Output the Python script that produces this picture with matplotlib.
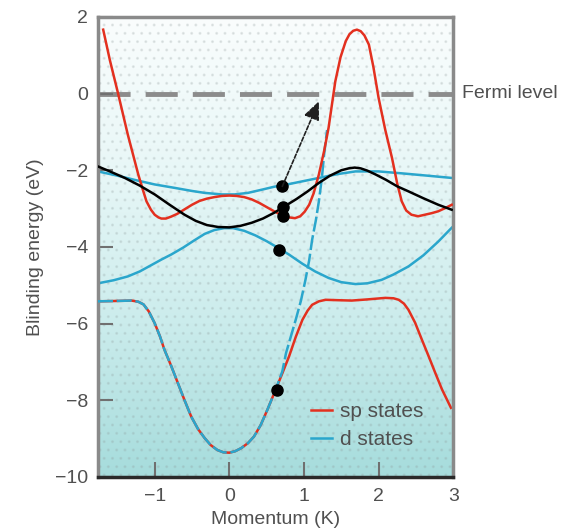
import numpy as np
import matplotlib
matplotlib.use("Agg")
import matplotlib.pyplot as plt
from matplotlib.colors import LinearSegmentedColormap

plt.rcParams['font.family'] = ['Liberation Sans', 'DejaVu Sans']

# ---- data ----
sp_upper_x = [-1.69, -1.6, -1.49, -1.36, -1.22, -1.16, -1.11, -1.05, -1.0, -0.95, -0.91, -0.85, -0.78,
              -0.7, -0.6, -0.5, -0.4, -0.3, -0.2, -0.1, 0.0, 0.1, 0.2, 0.3, 0.4, 0.5, 0.6, 0.7, 0.8,
              0.88, 0.95, 1.01, 1.07, 1.13, 1.2, 1.27, 1.33, 1.42, 1.49, 1.56, 1.61, 1.66, 1.71, 1.76,
              1.81, 1.87, 1.93, 2.0, 2.09, 2.18, 2.25, 2.31, 2.37, 2.44, 2.53, 2.62, 2.71, 2.8, 2.9, 2.98]
sp_upper_y = [1.67, 0.87, 0.0, -1.07, -2.11, -2.5, -2.81, -3.03, -3.16, -3.23, -3.26, -3.26, -3.21,
              -3.14, -3.02, -2.9, -2.8, -2.74, -2.7, -2.67, -2.66, -2.67, -2.7, -2.76, -2.85, -2.96, -3.07,
              -3.17, -3.23, -3.25, -3.2, -3.08, -2.9, -2.6, -2.11, -1.5, -0.89, 0.32, 0.95, 1.37, 1.55,
              1.64, 1.67, 1.63, 1.52, 1.28, 0.7, -0.11, -0.95, -1.68, -2.35, -2.81, -3.05, -3.16, -3.2,
              -3.16, -3.12, -3.07, -2.98, -2.9]

sp_lower_x = [-1.76, -1.5, -1.31, -1.22, -1.15, -1.08, -1.0, -0.93, -0.87, -0.78, -0.69, -0.6, -0.51,
              -0.42, -0.33, -0.25, -0.16, -0.08, 0.0, 0.08, 0.16, 0.25, 0.33, 0.42, 0.51, 0.62, 0.71,
              0.8, 0.89, 0.98, 1.05, 1.11, 1.2, 1.29, 1.45, 1.64, 1.85, 2.09, 2.2, 2.27, 2.34, 2.4,
              2.49, 2.58, 2.67, 2.76, 2.85, 2.97]
sp_lower_y = [-5.42, -5.41, -5.4, -5.43, -5.5, -5.68, -5.99, -6.33, -6.68, -7.1, -7.55, -8.0, -8.43,
              -8.75, -8.99, -9.17, -9.3, -9.36, -9.37, -9.33, -9.25, -9.12, -8.95, -8.65, -8.25, -7.73, -7.3,
              -6.86, -6.35, -5.9, -5.66, -5.51, -5.42, -5.38, -5.39, -5.4, -5.37, -5.33, -5.34, -5.38,
              -5.48, -5.64, -5.98, -6.42, -6.85, -7.29, -7.72, -8.2]

d_upper_x = [-1.76, -1.5, -1.27, -1.0, -0.73, -0.5, -0.33, -0.1, 0.07, 0.25, 0.45, 0.6, 0.8, 1.0, 1.2,
             1.45, 1.69, 2.0, 2.31, 2.65, 2.98]
d_upper_y = [-2.03, -2.14, -2.25, -2.37, -2.46, -2.54, -2.59, -2.63, -2.63, -2.59, -2.5, -2.43, -2.36,
             -2.28, -2.2, -2.1, -2.03, -2.03, -2.08, -2.14, -2.2]

d_middle_x = [-1.76, -1.55, -1.36, -1.2, -1.05, -0.91, -0.78, -0.62, -0.47, -0.33, -0.2, -0.07, 0.05,
              0.2, 0.35, 0.5, 0.65, 0.8, 0.98, 1.15, 1.33, 1.5, 1.69, 1.85, 2.04, 2.2, 2.4, 2.6, 2.8, 2.98]
d_middle_y = [-4.95, -4.87, -4.77, -4.64, -4.48, -4.33, -4.2, -4.02, -3.83, -3.66, -3.56, -3.51, -3.51,
              -3.58, -3.7, -3.85, -4.02, -4.2, -4.44, -4.64, -4.81, -4.92, -4.97, -4.95, -4.86, -4.72,
              -4.51, -4.22, -3.86, -3.5]

d_steep_x = [-1.76, -1.5, -1.31, -1.22, -1.15, -1.08, -1.0, -0.93, -0.87, -0.78, -0.69, -0.6, -0.51,
             -0.42, -0.33, -0.25, -0.16, -0.08, 0.0, 0.08, 0.16, 0.25, 0.33, 0.42, 0.51, 0.62, 0.71,
             0.76, 0.89, 0.96, 1.02, 1.07, 1.11, 1.16, 1.2, 1.24, 1.27, 1.31]
d_steep_y = [-5.42, -5.41, -5.4, -5.43, -5.5, -5.68, -5.99, -6.33, -6.68, -7.1, -7.55, -8.0, -8.43,
             -8.75, -8.99, -9.17, -9.3, -9.36, -9.37, -9.33, -9.25, -9.12, -8.95, -8.65, -8.25, -7.73,
             -7.25, -6.77, -5.9, -5.4, -4.86, -4.35, -3.81, -3.3, -2.81, -2.2, -1.59, -0.95]

cross_x = [-1.76, -1.6, -1.4, -1.2, -1.0, -0.8, -0.6, -0.45, -0.3, -0.15, 0.0, 0.15, 0.3, 0.45, 0.6,
           0.75, 0.9, 1.05, 1.2, 1.35, 1.5, 1.6, 1.68, 1.76, 1.85, 1.96, 2.1, 2.25, 2.4, 2.6, 2.8, 2.98]
cross_y = [-1.9, -2.03, -2.2, -2.4, -2.63, -2.9, -3.16, -3.32, -3.43, -3.48, -3.49, -3.45, -3.37, -3.26,
           -3.11, -2.93, -2.75, -2.55, -2.33, -2.14, -2.0, -1.95, -1.93, -1.95, -2.01, -2.11, -2.25,
           -2.42, -2.55, -2.73, -2.9, -3.03]

dots_x = [0.71, 0.72, 0.72, 0.67, 0.64]
dots_y = [-2.42, -2.95, -3.2, -4.07, -7.73]

arrow_start = (0.71, -2.42)
arrow_end = (1.2, -0.2)

fermi_level = 0.0
x_ticks = [-1, 0, 1, 2, 3]
y_ticks = [2, 0, -2, -4, -6, -8, -10]
xlim = (-1.76, 3.0)
ylim = (-10, 2)

RED = '#e3301f'
CYAN = '#2aa6cc'
GRAY_TXT = '#505050'

fig = plt.figure(figsize=(5.63, 5.31), dpi=100)
ax = fig.add_axes([0.174, 0.102, 0.631, 0.866])

# background gradient (light at top, teal at bottom)
cmap = LinearSegmentedColormap.from_list('bg', ['#fafdfd', '#e8f7f7', '#cbecec', '#a6dcdc'])
grad = np.linspace(0, 1, 256).reshape(-1, 1)
ax.imshow(grad, cmap=cmap, extent=[xlim[0], xlim[1], ylim[0], ylim[1]], aspect='auto', zorder=0,
          origin='upper')
ax.fill_between(xlim, ylim[0], ylim[1], facecolor='none', edgecolor=(0.55, 0.6, 0.6, 0.18),
                hatch='..', linewidth=0, zorder=0.5)

# Fermi level
ax.axhline(fermi_level, color='#8c8c8c', lw=3.5, dashes=(6.6, 3.1), zorder=1)
ax.text(1.026, fermi_level, 'Fermi level', transform=ax.get_yaxis_transform(), ha='left', va='center',
        fontsize=14, color=GRAY_TXT, clip_on=False)

lw = 1.8
ax.plot(sp_lower_x, sp_lower_y, color=RED, lw=lw, zorder=2, solid_joinstyle='round')
ax.plot(d_steep_x, d_steep_y, color=CYAN, lw=lw, dashes=(6, 1.5), zorder=3)
ax.plot(d_middle_x, d_middle_y, color=CYAN, lw=lw, zorder=2, solid_joinstyle='round')
ax.plot(d_upper_x, d_upper_y, color=CYAN, lw=lw, zorder=2, label='d states', solid_joinstyle='round')
ax.plot(sp_upper_x, sp_upper_y, color=RED, lw=lw, zorder=3, label='sp states', solid_joinstyle='round')
ax.plot(cross_x, cross_y, color='black', lw=lw, zorder=4, solid_joinstyle='round')
ax.plot(dots_x, dots_y, 'o', color='black', ms=8, zorder=5)

ax.annotate('', xy=arrow_end, xytext=arrow_start,
            arrowprops=dict(arrowstyle='-|>,head_length=0.8,head_width=0.35', lw=1.2, color='#202020',
                            linestyle=(0, (2.5, 1.2)), shrinkA=0, shrinkB=0, mutation_scale=14),
            zorder=5)

ax.set_xlim(*xlim)
ax.set_ylim(*ylim)
ax.set_xticks(x_ticks)
ax.set_yticks(y_ticks)
ax.set_xticklabels(['\u2212' + str(abs(v)) if v < 0 else str(v) for v in x_ticks])
ax.set_yticklabels(['\u2212' + str(abs(v)) if v < 0 else str(v) for v in y_ticks])
ax.tick_params(axis='both', direction='in', length=11, width=1.5, color='#707070', labelsize=14,
               labelcolor=GRAY_TXT)
ax.tick_params(axis='x', pad=8)
ax.tick_params(axis='y', pad=7)

for side in ['left', 'top', 'right']:
    ax.spines[side].set_color('#8a8a8a')
    ax.spines[side].set_linewidth(2.5)
ax.spines['bottom'].set_color('#2a2a2a')
ax.spines['bottom'].set_linewidth(2.5)

ax.set_xlabel('Momentum (K)', fontsize=14, color=GRAY_TXT, labelpad=4)
ax.set_ylabel('Blinding energy (eV)', fontsize=14, color=GRAY_TXT, labelpad=8)

h, l = ax.get_legend_handles_labels()
order = [l.index('sp states'), l.index('d states')]
ax.legend([h[i] for i in order], [l[i] for i in order], loc='lower left', bbox_to_anchor=(0.6, 0.06),
          frameon=False, fontsize=15, labelcolor=GRAY_TXT, handlelength=1.0, handletextpad=0.4,
          labelspacing=0.45, borderpad=0, borderaxespad=0)

fig.savefig('out.png', dpi=100)
